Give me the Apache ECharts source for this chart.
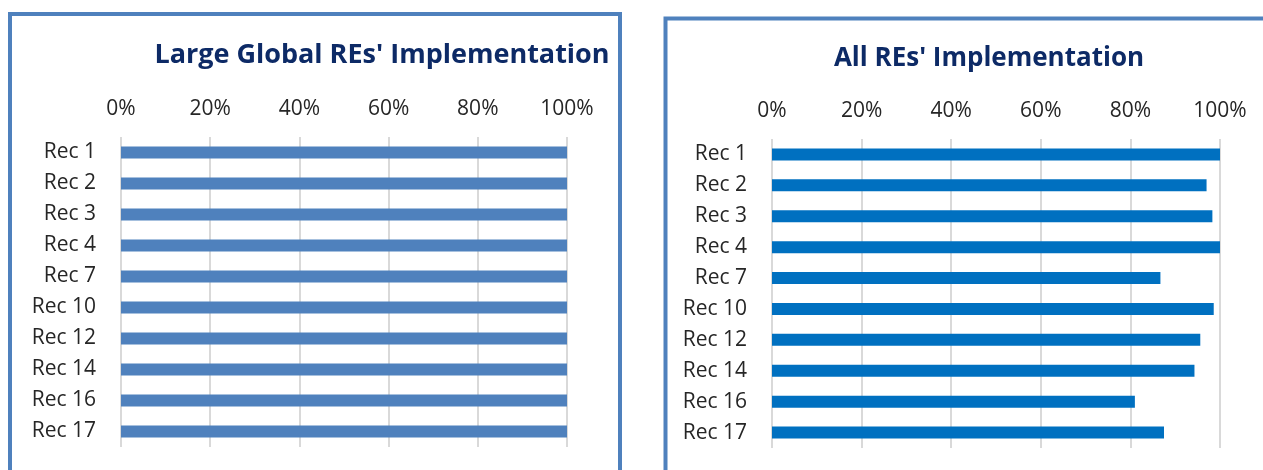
<!DOCTYPE html>
<html lang="en">
<head>
  <meta charset="UTF-8">
  <title>REs' Implementation</title>
  <style>
    * { box-sizing: border-box; margin: 0; padding: 0; }
    html, body { width: 1263px; height: 470px; background: #fff; overflow: hidden; }
    #chart { width: 1263px; height: 470px; }
  </style>
  <script src="https://cdn.jsdelivr.net/npm/echarts@6/dist/echarts.min.js"></script>
</head>
<body>
  <div id="chart"></div>
  <script>
    // data
    const recs = ['Rec 1', 'Rec 2', 'Rec 3', 'Rec 4', 'Rec 7', 'Rec 10', 'Rec 12', 'Rec 14', 'Rec 16', 'Rec 17'];
    const largeGlobal = [100, 100, 100, 100, 100, 100, 100, 100, 100, 100];
    const allREs = [100, 97, 98.3, 100, 86.7, 98.6, 95.6, 94.3, 81, 87.5];
    const titles = ["Large Global REs' Implementation", "All REs' Implementation"];

    const font = "'Open Sans', sans-serif";
    const chart = echarts.init(document.getElementById('chart'));

    function valueAxis(idx) {
      return {
        type: 'value', gridIndex: idx, position: 'top',
        min: 0, max: 100, interval: 20,
        axisLine: { show: false }, axisTick: { show: false },
        axisLabel: { formatter: '{value}%', color: '#262626', fontSize: 21, fontFamily: font, margin: 17 },
        splitLine: { show: true, lineStyle: { color: '#d9d9d9', width: 2 } }
      };
    }
    function catAxis(idx) {
      return {
        type: 'category', gridIndex: idx, data: recs, inverse: true,
        axisLine: { show: false }, axisTick: { show: false },
        axisLabel: { color: '#262626', fontSize: 21, fontFamily: font, margin: 25 }
      };
    }

    chart.setOption({
      animation: false,
      title: [
        { text: titles[0], left: 377, top: 37, textAlign: 'center',
          textStyle: { color: '#0d2a66', fontSize: 27, fontWeight: 'bold', fontFamily: font } },
        { text: titles[1], left: 984, top: 41, textAlign: 'center',
          textStyle: { color: '#0d2a66', fontSize: 26, fontWeight: 'bold', fontFamily: font } }
      ],
      graphic: [
        { type: 'rect', shape: { x: 10, y: 14, width: 610, height: 500 },
          style: { fill: null, stroke: '#4f81bd', lineWidth: 4 } },
        { type: 'rect', shape: { x: 665.5, y: 18.5, width: 700, height: 500 },
          style: { fill: null, stroke: '#4f81bd', lineWidth: 4 } }
      ],
      grid: [
        { left: 121, right: 696, top: 137, bottom: 23 },
        { left: 772, right: 43, top: 139, bottom: 22 }
      ],
      xAxis: [valueAxis(0), valueAxis(1)],
      yAxis: [catAxis(0), catAxis(1)],
      series: [
        { type: 'bar', xAxisIndex: 0, yAxisIndex: 0, data: largeGlobal, barWidth: 12,
          itemStyle: { color: '#4f81bd' } },
        { type: 'bar', xAxisIndex: 1, yAxisIndex: 1, data: allREs, barWidth: 12,
          itemStyle: { color: '#0070c0' } }
      ]
    });
    window.addEventListener('resize', () => chart.resize());
  </script>
</body>
</html>
